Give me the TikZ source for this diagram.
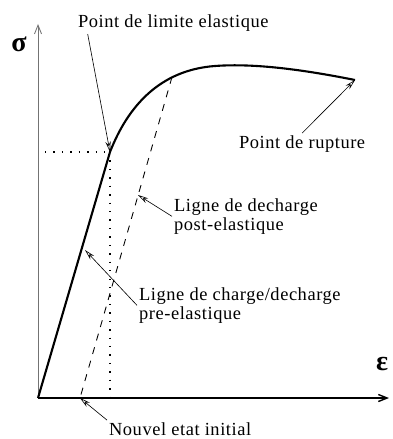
\documentclass[tikz,border=0pt]{standalone}
\usepackage{fontspec}
\setmainfont{Liberation Serif}[LetterSpace=3]
\newfontfamily\greekfont{Liberation Serif}
\usetikzlibrary{arrows.meta, calc}

\begin{document}
\begin{tikzpicture}[
        x=.02cm, y=-.02cm,
        axis/.style={line width=.5pt, -{Straight Barb[length=5pt, width=4pt]}},
        law/.style={line width=1.2pt, line join=round},
        guide/.style={line width=.6pt, dash pattern=on .8pt off 4pt},
        unload/.style={line width=.5pt, dash pattern=on 4pt off 4pt},
        callout/.style={line width=.35pt, -{Stealth[open, length=6pt, width=3pt]}},
        lbl/.style={font=\fontsize{10.5}{10.5}\selectfont, inner sep=1pt, align=left},
        sym/.style={font=\greekfont\fontsize{16}{16}\selectfont\bfseries, inner sep=0pt},
    ]
    \useasboundingbox (0,0) rectangle (392,439);

    %% axes
    \coordinate (o) at (38,398);
    \coordinate (ytop) at (38,24);
    \coordinate (xend) at (389,398);
    \draw[axis, draw=black!55] (o) -- (ytop);
    \draw[axis, line width=.8pt] (o) -- (xend);
    \node[sym] (sig) at (19,44) {σ};
    \node[sym] (eps) at (382,364) {ε};

    %% stress-strain law
    \coordinate (lim) at (110,152);
    \coordinate (rupt) at (355,80);
    \draw[law] (o) -- (lim)
        .. controls (128,106) and (160,70) .. (215,66)
        .. controls (255,63) and (305,70) .. (rupt);

    %% yield level and unloading
    \coordinate (ylev) at (45,152);
    \coordinate (xlev) at (110,398);
    \draw[guide] (ylev) -- (lim);
    \draw[guide] (lim) -- (xlev);
    \coordinate (unl) at (172,77);
    \coordinate (newzero) at (80,398);
    \draw[unload] (unl) -- (newzero);

    %% labels
    \node[lbl, anchor=base west] (limtxt) at (76,28) {Point de limite elastique};
    \node[lbl, anchor=base west] (rupttxt) at (237,148) {Point de rupture};
    \node[lbl, anchor=base west] (posttxt) at (172,230) {Ligne de decharge\\post-elastique};
    \node[lbl, anchor=base west] (pretxt) at (137,319) {Ligne de charge/decharge\\pre-elastique};
    \node[lbl, anchor=base west] (newtxt) at (107,435) {Nouvel etat initial};

    \coordinate (postpt) at (138,195);
    \coordinate (prept) at (85,250);
    \draw[callout] ($(limtxt.south west)!.06!(limtxt.south east)$) -- (lim);
    \draw[callout] (rupttxt.north) -- (rupt);
    \draw[callout] (posttxt.west) -- (postpt);
    \draw[callout] (pretxt.west) -- (prept);
    \draw[callout] (newtxt.north west) -- (newzero);
\end{tikzpicture}
\end{document}
